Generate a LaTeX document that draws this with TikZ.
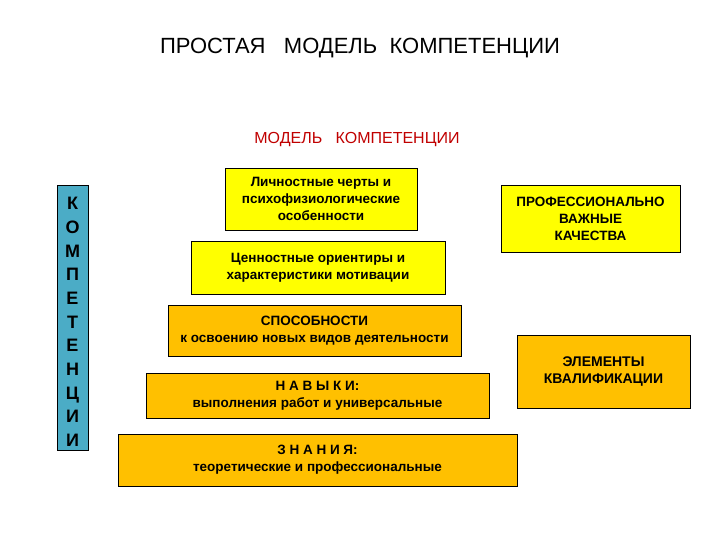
\documentclass[tikz,border=0pt]{standalone}
\usepackage{fontspec}
\setmainfont{Liberation Sans}
\definecolor{yel}{HTML}{FFFF00}
\definecolor{org}{HTML}{FFC000}
\definecolor{teal}{HTML}{4BACC6}
\definecolor{dred}{HTML}{C00000}
\begin{document}
\begin{tikzpicture}[x=1pt,y=-1pt,
  bx/.style={draw=black,line width=0.8pt,inner sep=0pt,align=center,font=\bfseries\fontsize{13.5}{17}\selectfont},
  ]
\useasboundingbox (0,0) rectangle (720,540);
\node[font=\fontsize{22}{26}\selectfont] (t) at (360,48) {ПРОСТАЯ \ \ МОДЕЛЬ \ КОМПЕТЕНЦИИ};
\node[font=\fontsize{16}{19}\selectfont,text=dred] (st) at (357,140) {МОДЕЛЬ \ \ КОМПЕТЕНЦИИ};
\node[bx,fill=yel,minimum width=192,minimum height=62] (b1) at (321,199) {Личностные черты и\\психофизиологические\\особенности};
\node[bx,fill=yel,minimum width=254,minimum height=53] (b2) at (318,267.5) {Ценностные ориентиры и\\характеристики мотивации};
\node[bx,fill=org,minimum width=293,minimum height=51] (b3) at (314.5,331) {СПОСОБНОСТИ\\к освоению новых видов деятельности};
\node[bx,fill=org,minimum width=343,minimum height=45] (b4) at (317.5,396) {Н А В Ы К И:\\выполнения работ и универсальные};
\node[bx,fill=org,minimum width=399,minimum height=52] (b5) at (317.5,460) {З Н А Н И Я:\\теоретические и профессиональные};
\node[bx,fill=yel,minimum width=179,minimum height=67] (r1) at (590.5,219) {ПРОФЕССИОНАЛЬНО\\ВАЖНЫЕ\\КАЧЕСТВА};
\node[bx,fill=org,minimum width=173,minimum height=73,font=\bfseries\fontsize{14}{17}\selectfont] (r2) at (603.5,372) {ЭЛЕМЕНТЫ\\КВАЛИФИКАЦИИ};
\node[bx,fill=teal,minimum width=31,minimum height=265,font=\bfseries\fontsize{18}{23.7}\selectfont] (l) at (72.5,317.5) {};
\node[inner sep=0pt,align=center,font=\bfseries\fontsize{18}{23.7}\selectfont] (lt) at (72.5,322) {К\\О\\М\\П\\Е\\Т\\Е\\Н\\Ц\\И\\И};
\end{tikzpicture}
\end{document}
